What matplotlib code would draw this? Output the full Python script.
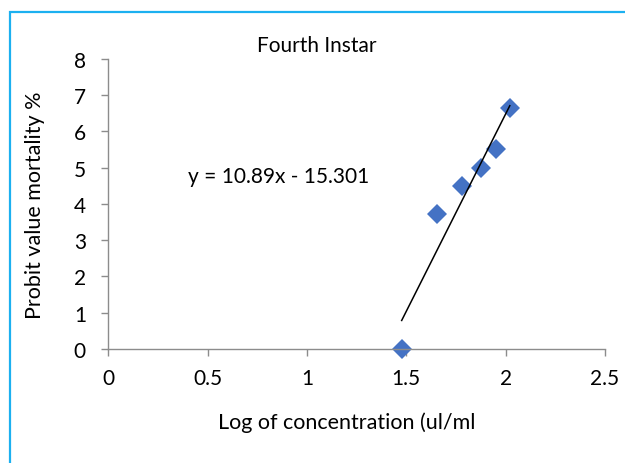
import matplotlib.pyplot as plt
from matplotlib.patches import Rectangle

# probit data, fourth instar
log_conc = [1.477, 1.653, 1.778, 1.875, 1.954, 2.021]
probit = [0.0, 3.72, 4.48, 4.98, 5.52, 6.64]

# linear trendline shown on chart
slope = 10.89
intercept = -15.301

x_ticks = [0, 0.5, 1, 1.5, 2, 2.5]
y_ticks = [0, 1, 2, 3, 4, 5, 6, 7, 8]

plt.rcParams['font.family'] = ['Lato', 'DejaVu Sans']

fig = plt.figure(figsize=(6.25, 4.64), dpi=100)
ax = fig.add_axes([0.173, 0.246, 0.795, 0.625])

# trendline across the data range
x0, x1 = min(log_conc), max(log_conc)
ax.plot([x0, x1], [slope * x0 + intercept, slope * x1 + intercept],
        color='black', lw=1.1, zorder=3)
ax.plot(log_conc, probit, 'D', color='#4472C4', markersize=10.5,
        markeredgewidth=0, clip_on=False, zorder=2)

ax.set_xlim(0, 2.5)
ax.set_ylim(0, 8)
ax.set_xticks(x_ticks)
ax.set_xticklabels(['0', '0.5', '1', '1.5', '2', '2.5'])
ax.set_yticks(y_ticks)

for s in ['top', 'right']:
    ax.spines[s].set_visible(False)
for s in ['left', 'bottom']:
    ax.spines[s].set_color('#8c8c8c')
    ax.spines[s].set_linewidth(1)
ax.tick_params(colors='#8c8c8c', labelcolor='black', labelsize=15,
               length=5, width=1, direction='out')
ax.tick_params(axis='x', pad=9)
ax.tick_params(axis='y', pad=11)

ax.set_xlabel('Log of concentration (ul/ml', fontsize=15.5)
ax.xaxis.set_label_coords(0.48, -0.215)
ax.set_ylabel('Probit value mortality %', fontsize=15.5, labelpad=21)
ax.set_title('Fourth Instar', fontsize=15, y=1.0, x=0.42)

ax.text(0.16, 0.595, 'y = 10.89x - 15.301', transform=ax.transAxes,
        fontsize=15, va='center', ha='left')

# chart border
fig.patches.append(Rectangle((10 / 625, -0.05), 1.1, 1 - 13 / 464 + 0.05,
                             transform=fig.transFigure, fill=False,
                             edgecolor='#1CB0F0', lw=1.6))

plt.savefig('out.png', dpi=100)
